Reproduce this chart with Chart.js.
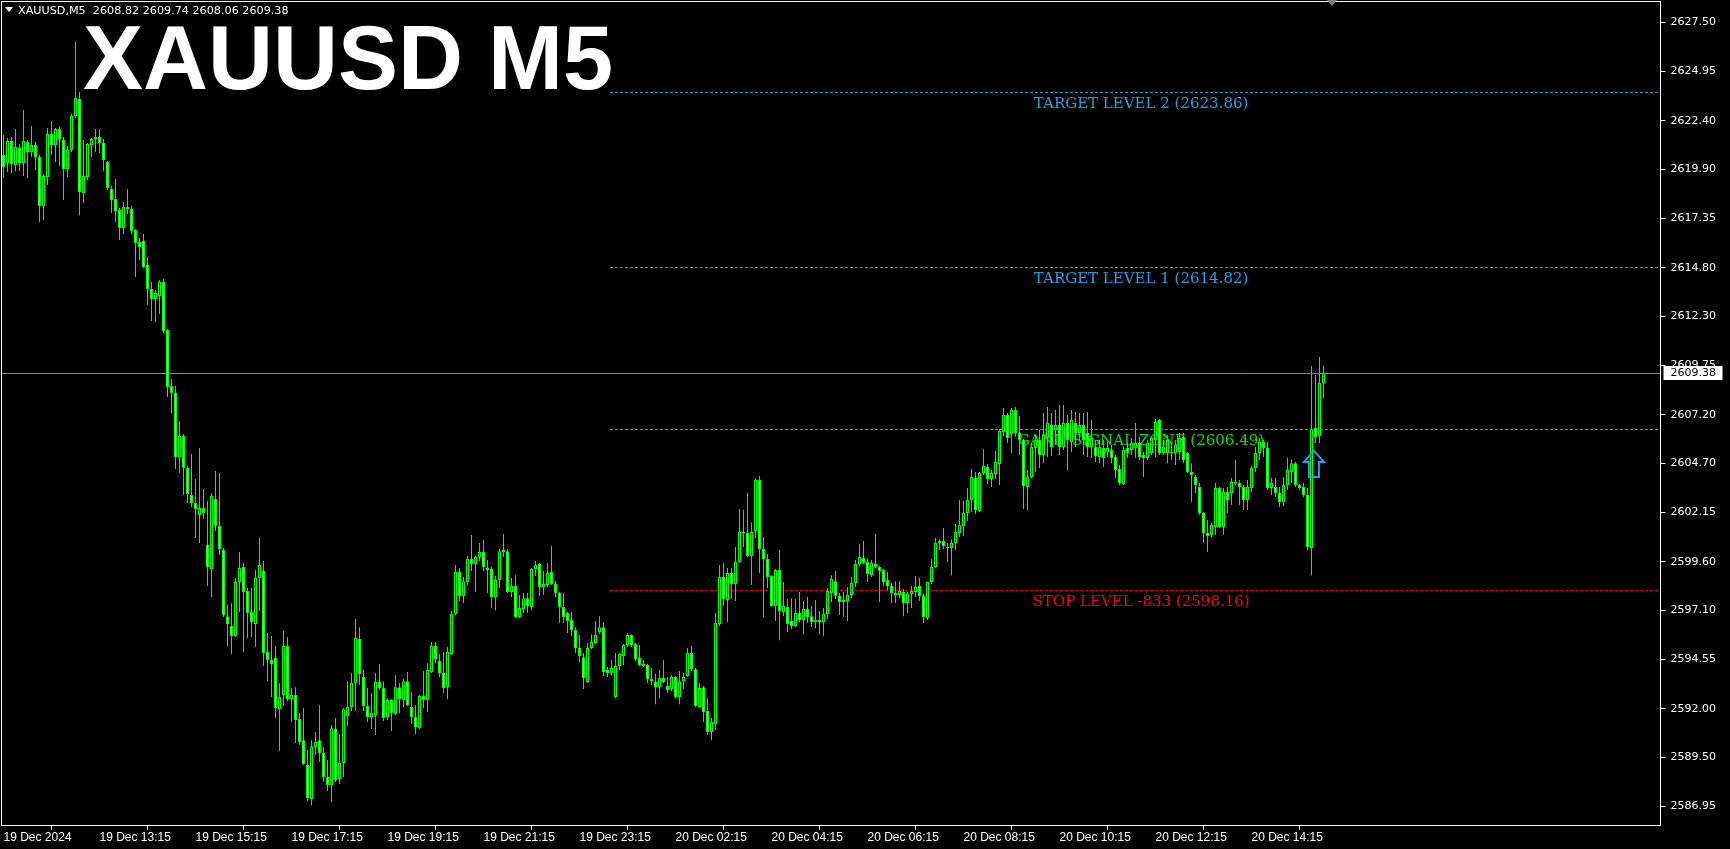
<!DOCTYPE html>
<html>
<head>
<meta charset="utf-8">
<title>XAUUSD M5</title>
<script src="https://cdn.jsdelivr.net/npm/chart.js@4.4.1/dist/chart.umd.min.js"></script>
<style>
  html, body { margin: 0; padding: 0; background: #000; overflow: hidden; }
  #wrap { width: 1730px; height: 849px; }
</style>
</head>
<body>
<div id="wrap"><canvas id="chart" width="1730" height="849"></canvas></div>
<script>
// XAUUSD M5, 19 Dec 11:15 -> 20 Dec 15:40
var opens = [
  2620.63, 2620.22, 2621.35, 2620.11, 2620.99, 2620.22, 2621.30, 2620.78, 2621.15, 2620.52,
  2617.99, 2619.49, 2621.71, 2621.15, 2621.97, 2621.40, 2619.90, 2620.89, 2622.64, 2623.52,
  2618.66, 2619.49, 2621.15, 2621.45, 2621.56, 2621.25, 2620.27, 2618.87, 2618.35, 2617.78,
  2616.85, 2617.94, 2617.84, 2616.75, 2616.13, 2616.18, 2614.94, 2613.70, 2613.18, 2613.34,
  2614.06, 2611.58, 2608.69, 2608.32, 2605.01, 2606.10, 2604.45, 2603.05, 2602.64, 2602.02,
  2602.38, 2600.47, 2599.23, 2602.84, 2601.45, 2600.21, 2596.79, 2596.28, 2595.76, 2598.55,
  2599.33, 2598.09, 2597.00, 2596.38, 2598.76, 2599.12, 2594.93, 2594.52, 2594.62, 2591.98,
  2592.71, 2595.24, 2592.50, 2592.71, 2591.47, 2590.38, 2589.09, 2587.33, 2590.02, 2590.38,
  2589.71, 2588.47, 2588.06, 2590.95, 2588.37, 2589.20, 2591.62, 2592.09, 2593.33, 2595.61,
  2593.64, 2592.14, 2591.57, 2591.68, 2593.38, 2593.07, 2591.57, 2592.45, 2591.73, 2593.12,
  2592.45, 2593.43, 2592.09, 2591.57, 2591.00, 2592.66, 2592.45, 2593.90, 2595.24, 2594.47,
  2593.85, 2593.12, 2594.83, 2596.90, 2599.07, 2597.83, 2598.55, 2599.74, 2599.48, 2599.85,
  2600.10, 2599.28, 2599.23, 2597.78, 2598.66, 2600.10, 2600.15, 2598.04, 2598.35, 2596.74,
  2597.16, 2597.72, 2597.26, 2599.23, 2599.48, 2598.29, 2598.40, 2599.07, 2598.45, 2597.98,
  2597.26, 2596.95, 2596.59, 2596.07, 2595.14, 2594.67, 2593.38, 2595.14, 2595.40, 2595.97,
  2596.22, 2594.00, 2593.85, 2592.61, 2594.21, 2594.73, 2595.30, 2595.81, 2595.35, 2594.62,
  2594.31, 2594.26, 2593.54, 2593.38, 2593.12, 2593.59, 2593.18, 2593.02, 2593.64, 2592.61,
  2593.43, 2593.69, 2594.88, 2594.05, 2592.09, 2593.12, 2591.88, 2590.80, 2591.21, 2596.38,
  2598.81, 2597.62, 2599.02, 2598.45, 2599.59, 2601.14, 2601.09, 2599.90, 2601.19, 2603.83,
  2600.26, 2599.74, 2598.86, 2597.31, 2599.18, 2597.00, 2597.26, 2596.54, 2596.28, 2596.95,
  2596.59, 2597.16, 2596.79, 2596.48, 2596.59, 2596.48, 2596.90, 2597.98, 2598.60, 2597.83,
  2597.52, 2597.57, 2597.88, 2598.50, 2599.48, 2599.79, 2599.59, 2598.91, 2599.48, 2599.33,
  2599.18, 2598.66, 2598.35, 2597.98, 2597.88, 2598.04, 2597.47, 2597.93, 2598.04, 2598.35,
  2597.83, 2596.69, 2598.55, 2599.33, 2600.57, 2600.67, 2600.36, 2600.31, 2600.57, 2601.09,
  2601.45, 2602.12, 2602.79, 2603.93, 2602.22, 2604.19, 2604.50, 2603.88, 2604.14, 2604.65,
  2606.31, 2607.19, 2606.20, 2607.45, 2606.26, 2605.89, 2603.46, 2603.98, 2605.48, 2605.89,
  2605.12, 2606.00, 2606.67, 2606.41, 2606.67, 2605.53, 2606.77, 2605.79, 2606.77, 2606.26,
  2606.67, 2606.26, 2605.53, 2605.53, 2605.02, 2605.48, 2605.27, 2605.38, 2605.02, 2604.39,
  2603.62, 2605.48, 2605.38, 2605.48, 2605.74, 2605.12, 2604.96, 2605.22, 2605.89, 2606.93,
  2605.22, 2605.22, 2605.27, 2605.22, 2605.27, 2606.05, 2605.22, 2604.24, 2603.98, 2603.46,
  2602.12, 2601.09, 2600.98, 2601.40, 2603.41, 2601.40, 2603.21, 2603.15, 2603.72, 2603.67,
  2603.46, 2602.79, 2603.41, 2604.45, 2605.22, 2605.79, 2605.48, 2603.41, 2603.46, 2603.15,
  2602.69, 2603.57, 2604.24, 2604.70, 2603.57, 2603.46, 2603.05, 2600.31, 2606.51, 2606.10,
  2608.82
];
var highs = [
  2621.66, 2621.51, 2621.56, 2621.97, 2621.20, 2622.95, 2621.40, 2622.13, 2621.30, 2620.63,
  2619.65, 2622.02, 2622.38, 2622.02, 2622.07, 2621.56, 2621.09, 2622.75, 2626.47, 2623.88,
  2621.40, 2621.25, 2621.51, 2621.97, 2621.97, 2621.45, 2620.32, 2619.03, 2619.39, 2617.89,
  2618.20, 2618.87, 2617.99, 2616.80, 2616.34, 2616.54, 2615.36, 2614.06, 2613.65, 2614.16,
  2614.22, 2611.63, 2609.05, 2608.69, 2606.88, 2606.20, 2604.55, 2605.17, 2603.88, 2605.48,
  2603.36, 2602.74, 2603.15, 2604.29, 2604.19, 2600.31, 2597.36, 2597.47, 2598.76, 2600.10,
  2599.54, 2598.24, 2598.24, 2599.18, 2600.83, 2599.64, 2595.92, 2595.76, 2595.24, 2593.33,
  2596.02, 2595.71, 2593.07, 2593.12, 2591.78, 2592.04, 2589.87, 2590.38, 2590.80, 2592.19,
  2590.02, 2589.35, 2591.16, 2591.52, 2590.69, 2592.04, 2593.43, 2593.85, 2596.64, 2596.22,
  2594.00, 2593.07, 2592.81, 2593.85, 2594.31, 2593.43, 2592.55, 2592.50, 2593.74, 2593.33,
  2593.54, 2593.90, 2592.86, 2592.19, 2592.71, 2593.95, 2594.36, 2595.45, 2595.45, 2594.83,
  2594.93, 2595.19, 2597.05, 2599.43, 2599.28, 2598.81, 2599.90, 2600.98, 2599.90, 2600.57,
  2600.72, 2599.69, 2599.33, 2598.86, 2600.26, 2601.03, 2600.26, 2598.76, 2598.91, 2597.88,
  2597.98, 2597.98, 2599.28, 2599.64, 2599.54, 2599.12, 2599.54, 2600.41, 2598.60, 2598.04,
  2597.98, 2597.00, 2597.00, 2596.22, 2595.81, 2594.88, 2595.40, 2595.86, 2596.54, 2596.79,
  2596.48, 2594.16, 2594.52, 2594.88, 2594.88, 2595.35, 2595.92, 2595.86, 2595.40, 2595.30,
  2594.52, 2594.31, 2594.11, 2593.80, 2594.00, 2594.52, 2593.64, 2593.74, 2593.69, 2593.95,
  2593.85, 2595.14, 2595.24, 2594.11, 2593.33, 2593.18, 2592.55, 2591.52, 2596.95, 2599.43,
  2599.54, 2599.28, 2599.28, 2600.36, 2602.33, 2602.28, 2603.15, 2601.65, 2603.93, 2604.03,
  2600.88, 2600.00, 2598.91, 2599.23, 2600.21, 2598.55, 2597.67, 2597.72, 2597.67, 2598.04,
  2597.57, 2597.78, 2597.31, 2597.62, 2597.05, 2597.21, 2598.24, 2598.91, 2599.12, 2597.98,
  2598.04, 2598.29, 2598.81, 2599.69, 2600.52, 2600.67, 2599.74, 2599.69, 2601.03, 2599.38,
  2599.23, 2599.07, 2598.50, 2598.60, 2598.60, 2598.19, 2598.04, 2598.35, 2598.86, 2598.76,
  2597.93, 2598.55, 2599.74, 2600.83, 2600.77, 2601.34, 2600.57, 2600.77, 2601.55, 2602.79,
  2602.74, 2603.41, 2604.39, 2604.24, 2604.24, 2605.43, 2604.65, 2604.34, 2605.33, 2606.46,
  2607.55, 2607.29, 2607.55, 2607.60, 2607.14, 2605.95, 2604.34, 2605.74, 2606.15, 2606.41,
  2607.29, 2607.60, 2607.29, 2607.45, 2607.70, 2607.70, 2607.19, 2607.45, 2607.34, 2607.29,
  2607.29, 2607.34, 2606.93, 2605.89, 2605.89, 2605.89, 2605.79, 2605.64, 2605.12, 2604.60,
  2605.53, 2605.74, 2606.00, 2606.77, 2606.05, 2605.27, 2605.89, 2606.05, 2606.98, 2606.98,
  2605.89, 2606.15, 2605.74, 2605.89, 2606.26, 2606.26, 2605.27, 2604.70, 2604.08, 2603.67,
  2602.17, 2601.76, 2601.60, 2603.67, 2603.46, 2603.41, 2603.46, 2603.93, 2604.86, 2603.83,
  2603.57, 2603.83, 2604.55, 2605.53, 2606.00, 2605.89, 2605.79, 2603.93, 2603.93, 2603.46,
  2603.98, 2604.96, 2604.86, 2604.76, 2603.62, 2603.67, 2603.41, 2609.72, 2609.25, 2610.18,
  2609.74
];
var lows = [
  2619.44, 2619.75, 2619.70, 2619.80, 2619.80, 2619.54, 2619.44, 2620.52, 2619.85, 2617.16,
  2617.27, 2619.08, 2620.63, 2620.27, 2620.06, 2618.30, 2619.49, 2620.78, 2622.54, 2617.52,
  2618.15, 2619.33, 2620.52, 2620.78, 2620.73, 2619.80, 2618.82, 2617.63, 2617.16, 2616.23,
  2616.54, 2617.58, 2616.54, 2614.32, 2615.20, 2614.78, 2612.87, 2612.05, 2612.00, 2612.41,
  2611.43, 2608.12, 2607.29, 2604.39, 2604.19, 2603.05, 2602.64, 2602.43, 2600.83, 2600.57,
  2601.81, 2598.35, 2597.78, 2601.19, 2599.95, 2596.74, 2595.24, 2594.83, 2595.71, 2597.00,
  2594.93, 2595.66, 2595.71, 2595.19, 2597.05, 2594.21, 2593.43, 2592.61, 2591.52, 2589.82,
  2592.14, 2592.40, 2591.32, 2590.23, 2590.13, 2589.09, 2587.23, 2587.02, 2589.61, 2589.25,
  2588.21, 2587.75, 2587.18, 2588.21, 2588.11, 2588.47, 2591.11, 2591.88, 2591.88, 2593.23,
  2591.88, 2591.32, 2590.95, 2590.64, 2592.97, 2591.37, 2591.42, 2590.85, 2591.68, 2591.78,
  2592.09, 2592.14, 2591.21, 2590.69, 2590.95, 2592.04, 2591.83, 2593.85, 2594.36, 2593.64,
  2592.81, 2592.50, 2594.78, 2596.84, 2597.57, 2597.47, 2598.40, 2599.12, 2598.04, 2599.64,
  2599.12, 2597.98, 2597.21, 2597.10, 2598.24, 2599.85, 2597.98, 2597.78, 2596.69, 2596.69,
  2596.95, 2596.95, 2597.10, 2598.86, 2597.83, 2597.88, 2598.29, 2598.40, 2597.78, 2596.43,
  2596.43, 2595.92, 2595.76, 2594.88, 2594.42, 2593.02, 2593.33, 2595.09, 2595.35, 2595.86,
  2593.69, 2593.64, 2593.74, 2592.55, 2594.00, 2594.26, 2595.19, 2595.19, 2594.47, 2594.21,
  2594.16, 2593.33, 2593.23, 2592.24, 2592.55, 2593.33, 2592.81, 2592.92, 2592.55, 2592.24,
  2593.02, 2593.64, 2593.95, 2592.09, 2592.04, 2591.32, 2590.64, 2590.38, 2590.90, 2596.28,
  2597.31, 2596.48, 2597.67, 2597.57, 2599.54, 2600.36, 2599.85, 2598.40, 2600.83, 2599.02,
  2596.74, 2598.24, 2597.26, 2596.54, 2595.55, 2596.79, 2595.97, 2596.12, 2596.23, 2596.48,
  2595.86, 2596.43, 2596.23, 2596.17, 2595.86, 2595.76, 2596.64, 2597.52, 2597.67, 2596.85,
  2596.74, 2596.54, 2597.72, 2598.29, 2599.38, 2599.48, 2598.55, 2598.81, 2599.28, 2597.52,
  2598.35, 2598.14, 2597.47, 2597.47, 2597.72, 2596.79, 2596.95, 2597.21, 2597.78, 2597.57,
  2596.43, 2596.59, 2598.45, 2599.28, 2600.21, 2600.26, 2599.59, 2598.91, 2600.21, 2600.88,
  2600.93, 2601.71, 2602.17, 2602.07, 2602.17, 2604.08, 2603.62, 2603.46, 2603.88, 2603.57,
  2606.10, 2605.74, 2605.22, 2606.05, 2605.12, 2602.33, 2602.28, 2603.93, 2604.24, 2604.45,
  2604.70, 2605.02, 2605.07, 2605.64, 2605.12, 2605.38, 2604.34, 2605.27, 2605.53, 2605.89,
  2605.12, 2605.02, 2604.96, 2604.76, 2604.70, 2604.50, 2605.02, 2604.70, 2603.93, 2603.57,
  2603.57, 2604.96, 2605.12, 2604.96, 2604.86, 2603.98, 2604.86, 2605.12, 2605.02, 2605.12,
  2605.12, 2604.70, 2604.86, 2604.60, 2604.86, 2604.70, 2604.19, 2602.69, 2603.15, 2602.02,
  2600.57, 2600.10, 2600.88, 2600.98, 2601.34, 2600.98, 2602.12, 2602.53, 2603.57, 2602.53,
  2602.28, 2602.28, 2603.20, 2604.24, 2604.86, 2605.02, 2603.31, 2603.05, 2602.95, 2602.43,
  2602.48, 2603.31, 2603.67, 2603.46, 2603.31, 2602.95, 2600.21, 2598.91, 2605.74, 2605.74,
  2608.06
];
var closes = [
  2620.01, 2621.35, 2620.16, 2621.04, 2620.22, 2621.35, 2620.78, 2621.15, 2620.52, 2617.99,
  2619.54, 2621.71, 2621.15, 2621.97, 2621.45, 2619.90, 2620.89, 2622.64, 2623.57, 2618.71,
  2619.54, 2621.20, 2621.45, 2621.56, 2621.25, 2620.37, 2618.92, 2618.30, 2617.73, 2616.85,
  2617.94, 2617.84, 2616.70, 2616.08, 2615.87, 2614.84, 2613.70, 2613.18, 2613.49, 2614.06,
  2611.53, 2608.63, 2608.32, 2605.01, 2606.10, 2604.45, 2603.10, 2602.64, 2602.33, 2602.38,
  2602.12, 2599.33, 2603.00, 2601.45, 2600.26, 2596.84, 2596.38, 2595.76, 2598.55, 2599.28,
  2598.04, 2596.95, 2596.48, 2598.76, 2599.43, 2594.88, 2594.52, 2594.31, 2592.04, 2592.61,
  2595.24, 2592.50, 2592.71, 2591.42, 2590.28, 2589.14, 2587.38, 2590.07, 2590.28, 2589.71,
  2588.47, 2588.06, 2591.00, 2588.32, 2589.20, 2591.98, 2592.09, 2593.33, 2595.66, 2593.80,
  2592.14, 2591.57, 2591.78, 2593.38, 2593.07, 2591.52, 2592.45, 2591.78, 2593.12, 2592.50,
  2593.43, 2592.19, 2591.57, 2591.06, 2592.66, 2592.45, 2594.00, 2595.24, 2594.57, 2593.85,
  2593.07, 2594.93, 2596.90, 2599.07, 2597.83, 2598.60, 2599.74, 2599.48, 2599.85, 2600.10,
  2599.33, 2599.18, 2597.78, 2598.66, 2600.15, 2600.21, 2598.04, 2598.35, 2596.74, 2597.21,
  2597.72, 2597.31, 2599.23, 2599.43, 2598.29, 2598.45, 2599.02, 2598.45, 2597.98, 2597.26,
  2596.74, 2596.54, 2596.07, 2595.14, 2594.73, 2593.59, 2595.14, 2595.45, 2595.81, 2596.22,
  2593.90, 2593.85, 2594.11, 2594.21, 2594.83, 2595.30, 2595.81, 2595.30, 2594.57, 2594.26,
  2594.21, 2593.54, 2593.43, 2593.12, 2593.59, 2593.38, 2592.97, 2593.64, 2592.61, 2593.43,
  2593.64, 2594.88, 2594.05, 2592.14, 2593.07, 2591.83, 2590.80, 2591.32, 2596.43, 2598.81,
  2597.67, 2599.02, 2598.45, 2599.59, 2601.14, 2601.09, 2599.90, 2601.14, 2603.83, 2600.26,
  2599.74, 2598.81, 2597.31, 2599.18, 2597.05, 2597.31, 2596.38, 2596.28, 2596.95, 2596.59,
  2597.16, 2596.74, 2596.48, 2596.59, 2596.48, 2596.90, 2598.09, 2598.71, 2597.83, 2597.52,
  2597.62, 2597.88, 2598.50, 2599.48, 2599.85, 2599.54, 2598.97, 2599.54, 2599.33, 2599.12,
  2598.55, 2598.35, 2597.98, 2597.88, 2598.09, 2597.47, 2597.93, 2598.09, 2598.29, 2597.83,
  2596.74, 2598.55, 2599.33, 2600.57, 2600.67, 2600.41, 2600.31, 2600.57, 2601.14, 2601.50,
  2602.12, 2602.79, 2603.98, 2602.28, 2604.19, 2604.55, 2603.88, 2604.19, 2604.76, 2606.36,
  2607.19, 2606.00, 2607.45, 2606.26, 2605.89, 2603.52, 2603.98, 2605.53, 2605.89, 2605.12,
  2606.15, 2606.77, 2605.53, 2606.67, 2605.53, 2606.77, 2605.89, 2606.93, 2606.26, 2606.67,
  2605.89, 2605.53, 2606.00, 2605.07, 2605.53, 2604.96, 2605.48, 2604.96, 2604.34, 2603.67,
  2605.38, 2605.22, 2605.74, 2605.74, 2605.02, 2604.96, 2605.74, 2606.00, 2606.82, 2605.22,
  2605.53, 2605.89, 2605.22, 2605.64, 2606.00, 2604.86, 2604.24, 2604.08, 2603.57, 2602.12,
  2601.09, 2600.93, 2601.50, 2603.41, 2601.40, 2603.21, 2602.79, 2603.72, 2603.67, 2603.46,
  2602.79, 2603.46, 2604.45, 2605.22, 2605.79, 2605.48, 2603.41, 2603.67, 2603.15, 2602.69,
  2603.57, 2604.34, 2604.70, 2603.57, 2603.41, 2603.05, 2600.36, 2606.46, 2606.05, 2608.84,
  2609.38
];

// one time label every 24 bars (2 hours)
var tickLabels = [
  "19 Dec 2024", "19 Dec 13:15", "19 Dec 15:15", "19 Dec 17:15", "19 Dec 19:15",
  "19 Dec 21:15", "19 Dec 23:15", "20 Dec 02:15", "20 Dec 04:15", "20 Dec 06:15",
  "20 Dec 08:15", "20 Dec 10:15", "20 Dec 12:15", "20 Dec 14:15"
];
var priceTicks = [
  2627.50, 2624.95, 2622.40, 2619.90, 2617.35, 2614.80, 2612.30, 2609.75, 2607.20,
  2604.70, 2602.15, 2599.60, 2597.10, 2594.55, 2592.00, 2589.50, 2586.95
];

var levelNames = ["TARGET LEVEL 2", "TARGET LEVEL 1", "GANN SIGNAL ZONE", "STOP LEVEL -833"];
var levelValues = [2623.86, 2614.82, 2606.49, 2598.16];

var signalBar = 327.6;     // buy arrow
var signalPrice = 2605.33;

var symbol = "XAUUSD,M5";
var chartTitle = "XAUUSD M5";

var GREEN = "#00ff00";
var levelColors = ["#1ea0e8", "#1ea0e8", "#00e000", "#ff0000"];
var levelFrom = 151.6;     // bar where the level lines start
var levelTextAt = 284.4;   // bar the level captions are centred on

var bars = opens.map(function(o, i) { return i; });
var wickData = bars.map(function(i) { return { x: i, y: [lows[i], highs[i]] }; });
var bodyData = bars.map(function(i) { return { x: i, y: [opens[i], closes[i]] }; });
var bodyFill = bars.map(function(i) { return closes[i] < opens[i] ? "#ffffff" : "#000000"; });

var last = opens.length - 1;

// levels, bid line, labels, arrow, frame
var overlay = {
  id: "overlay",
  beforeDatasetsDraw: function(chart) {
    var c = chart.ctx, a = chart.chartArea, xs = chart.scales.x, ys = chart.scales.y;
    c.save();
    var by = Math.round(ys.getPixelForValue(closes[last])) + 0.5;
    c.strokeStyle = "#778899";
    c.lineWidth = 1;
    c.beginPath(); c.moveTo(a.left, by); c.lineTo(a.right, by); c.stroke();

    var x0 = xs.getPixelForValue(levelFrom);
    var xt = xs.getPixelForValue(levelTextAt);
    c.font = "15px 'DejaVu Serif'";
    c.textAlign = "center";
    c.textBaseline = "alphabetic";
    levelValues.forEach(function(v, k) {
      var y = Math.round(ys.getPixelForValue(v)) + 0.5;
      c.setLineDash([3, 2]);
      c.strokeStyle = levelColors[k];
      c.beginPath(); c.moveTo(x0, y); c.lineTo(a.right, y); c.stroke();
      c.setLineDash([]);
      c.fillStyle = levelColors[k];
      c.fillText(levelNames[k] + " (" + v.toFixed(2) + ")", xt, y + 15);
    });
    c.restore();
  },
  afterDraw: function(chart) {
    var c = chart.ctx, a = chart.chartArea, xs = chart.scales.x, ys = chart.scales.y;
    c.save();
    // frame
    c.strokeStyle = "#ffffff";
    c.lineWidth = 1;
    c.strokeRect(a.left, a.top, a.width, a.height);

    // buy arrow
    var ax = xs.getPixelForValue(signalBar);
    var ay = ys.getPixelForValue(signalPrice);
    c.strokeStyle = "#1ea0e8";
    c.lineWidth = 2;
    c.beginPath();
    c.moveTo(ax, ay);
    c.lineTo(ax + 10, ay + 11);
    c.lineTo(ax + 5, ay + 11);
    c.lineTo(ax + 5, ay + 26);
    c.lineTo(ax - 5, ay + 26);
    c.lineTo(ax - 5, ay + 11);
    c.lineTo(ax - 10, ay + 11);
    c.closePath();
    c.stroke();

    // bid price tag on the axis
    var by = Math.round(ys.getPixelForValue(closes[last]));
    c.fillStyle = "#ffffff";
    c.fillRect(a.right + 3, by - 7, 59, 14);
    c.fillStyle = "#000000";
    c.font = "11px 'DejaVu Sans'";
    c.textAlign = "left";
    c.textBaseline = "middle";
    c.fillText(closes[last].toFixed(2), a.right + 10, by + 0.5);

    // chart shift marker
    c.fillStyle = "#808080";
    c.beginPath(); c.moveTo(1327, 0); c.lineTo(1337, 0); c.lineTo(1332, 6); c.closePath(); c.fill();

    // header
    c.fillStyle = "#ffffff";
    c.beginPath(); c.moveTo(5, 7); c.lineTo(13, 7); c.lineTo(9, 12); c.closePath(); c.fill();
    c.font = "11.2px 'DejaVu Sans'";
    c.textBaseline = "middle";
    c.fillText(symbol + "  " + [opens[last], highs[last], lows[last], closes[last]].map(function(v) {
      return v.toFixed(2);
    }).join(" "), 18, 11);

    // big title
    c.font = "bold 90px 'Liberation Sans'";
    c.textBaseline = "alphabetic";
    c.fillText(chartTitle, 83, 89);
    c.restore();
  }
};

var ctx = document.getElementById("chart").getContext("2d");
new Chart(ctx, {
  type: "bar",
  data: {
    datasets: [
      {
        label: "body",
        data: bodyData,
        backgroundColor: bodyFill,
        borderColor: GREEN,
        borderWidth: 1,
        borderSkipped: false,
        barThickness: 3,
        minBarLength: 1,
        inflateAmount: 0,
        grouped: false,
        order: 0
      },
      {
        label: "wick",
        data: wickData,
        backgroundColor: GREEN,
        borderWidth: 0,
        barThickness: 1,
        inflateAmount: 0,
        grouped: false,
        order: 1
      }
    ]
  },
  options: {
    responsive: false,
    animation: false,
    devicePixelRatio: 1,
    layout: { padding: { top: 1.5, left: 1.5, right: 0, bottom: 0 } },
    plugins: { legend: { display: false }, tooltip: { enabled: false } },
    scales: {
      x: {
        type: "linear",
        offset: false,
        min: -0.5,
        max: 414.25,
        afterBuildTicks: function(s) {
          s.ticks = tickLabels.map(function(t, k) { return { value: k * 24 }; });
        },
        afterFit: function(s) {
          s.height = 23.5;
          s.paddingLeft = 0;
          s.paddingRight = 0;
        },
        grid: { drawOnChartArea: false, drawTicks: true, tickLength: 4, tickColor: "#ffffff" },
        border: { display: false },
        ticks: {
          color: "#ffffff",
          font: { family: "Liberation Sans", size: 12 },
          padding: 1,
          align: "start",
          maxRotation: 0,
          autoSkip: false,
          callback: function(v, k) { return tickLabels[k]; }
        }
      },
      y: {
        position: "right",
        min: 2585.967,
        max: 2628.564,
        afterBuildTicks: function(s) {
          s.ticks = priceTicks.map(function(v) { return { value: v }; });
        },
        afterFit: function(s) {
          s.width = 69.5;
          s.paddingTop = 0;
          s.paddingBottom = 0;
        },
        grid: { drawOnChartArea: false, drawTicks: true, tickLength: 5, tickColor: "#ffffff" },
        border: { display: false },
        ticks: {
          color: "#ffffff",
          font: { family: "DejaVu Sans", size: 11 },
          padding: 5,
          autoSkip: false,
          callback: function(v) { return v.toFixed(2); }
        }
      }
    }
  },
  plugins: [overlay]
});
</script>
</body>
</html>
